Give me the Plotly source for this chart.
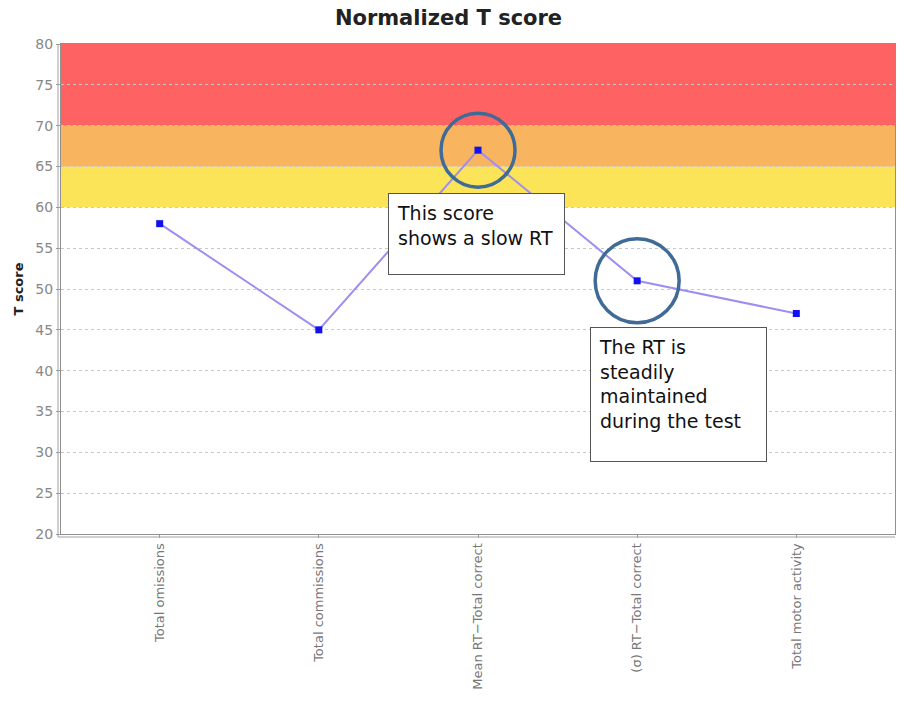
import plotly.graph_objects as go

categories = ["Total omissions", "Total commissions", "Mean RT\u2212Total correct",
              "(\u03c3) RT\u2212Total correct", "Total motor activity"]
t_scores = [58, 45, 67, 51, 47]
y_ticks = [20, 25, 30, 35, 40, 45, 50, 55, 60, 65, 70, 75, 80]
bands = [(60, 65, "#fbe457"), (65, 70, "#f8b45e"), (70, 80, "#fe6262")]

fig = go.Figure()

for lo, hi, col in bands:
    fig.add_shape(type="rect", xref="paper", yref="y", x0=0, x1=1, y0=lo, y1=hi,
                  fillcolor=col, line=dict(width=0), layer="below")

fig.add_trace(go.Scatter(
    x=list(range(len(categories))), y=t_scores, mode="lines+markers",
    line=dict(color="#9c8ff0", width=2),
    marker=dict(symbol="square", size=7, color="#1010f0"),
    showlegend=False, hoverinfo="y"))

# circles highlighting points
for idx, r in [(2, 37), (3, 42)]:
    fig.add_shape(type="circle", xref="x", yref="y", xsizemode="pixel", ysizemode="pixel",
                  xanchor=idx, yanchor=t_scores[idx], x0=-r, x1=r, y0=-r, y1=r,
                  line=dict(color="#3f6b96", width=3.5))

# second line of double axes
fig.add_shape(type="line", xref="paper", yref="paper", x0=-3/834, x1=-3/834, y0=-3/490, y1=1,
              line=dict(color="#a0a0a0", width=1))
fig.add_shape(type="line", xref="paper", yref="paper", x0=-3/834, x1=1, y0=-3/490, y1=-3/490,
              line=dict(color="#a0a0a0", width=1))

box_font = dict(family="DejaVu Sans", size=19, color="#111111")
fig.add_annotation(xref="paper", yref="paper", x=(476.5 - 61) / 834, y=(534 - 234) / 490,
                   xanchor="center", yanchor="middle",
                   text="This score<br>shows a slow RT", showarrow=False, align="left",
                   valign="top", width=159, height=64, borderpad=8, bgcolor="white",
                   bordercolor="#555555", borderwidth=1, font=box_font)
fig.add_annotation(xref="paper", yref="paper", x=(678.5 - 61) / 834, y=(534 - 394.5) / 490,
                   xanchor="center", yanchor="middle",
                   text="The RT is<br>steadily<br>maintained<br>during the test",
                   showarrow=False, align="left", valign="top", width=159, height=117,
                   borderpad=8, bgcolor="white", bordercolor="#555555", borderwidth=1,
                   font=box_font)

fig.update_layout(
    width=897, height=702,
    margin=dict(l=61, r=2, t=44, b=168),
    paper_bgcolor="white", plot_bgcolor="white",
    title=dict(text="<b>Normalized T score</b>", x=0.5, xanchor="center",
               y=1 - 18 / 702, yanchor="middle",
               font=dict(family="DejaVu Sans", size=21, color="#222222")),
    font=dict(family="DejaVu Sans"),
)
fig.update_xaxes(
    range=[-0.62, 4.62], tickmode="array", tickvals=list(range(len(categories))),
    ticktext=categories, tickangle=-90, tickfont=dict(size=13, color="#777777"),
    showgrid=False, showline=True, linecolor="#909090", linewidth=1, mirror=True,
    ticks="outside", ticklen=3, tickcolor="#999999", zeroline=False, fixedrange=True)
fig.update_yaxes(
    range=[20, 80], tickmode="array", tickvals=y_ticks,
    tickfont=dict(size=14, color="#888888"),
    title=dict(text="<b>T score</b>", font=dict(size=13, color="#222222"), standoff=8),
    showgrid=True, gridcolor="#c8c8c8", griddash="dot", gridwidth=1,
    showline=True, linecolor="#909090", linewidth=1, mirror=True,
    ticks="outside", ticklen=4, tickcolor="#999999", zeroline=False, fixedrange=True)

fig.write_html("out.html", config={"displayModeBar": False},
               post_script="document.body.style.margin='0';document.body.style.overflow='hidden';")
